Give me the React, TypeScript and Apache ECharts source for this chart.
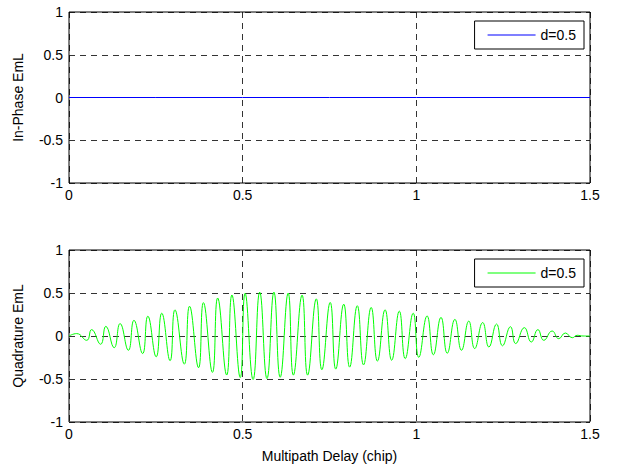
import React, { useEffect, useRef } from 'react';
import * as echarts from 'echarts';

const xTicks = [0, 0.5, 1, 1.5];
const yTicks = [-1, -0.5, 0, 0.5, 1];
const legendLabel = 'd=0.5';
const xTitle = 'Multipath Delay (chip)';
const topTitle = 'In-Phase EmL';
const bottomTitle = 'Quadrature EmL';

const inPhaseDelay = [0, 0.25, 0.5, 0.75, 1, 1.25, 1.5];
const inPhaseValue = [0, 0, 0, 0, 0, 0, 0];

const quadDelay = [
  0, 0.022, 0.051, 0.065, 0.091, 0.106, 0.13, 0.147, 0.171, 0.187, 0.212, 0.227, 0.251, 0.267, 0.291,
  0.305, 0.332, 0.347, 0.373, 0.387, 0.413, 0.428, 0.454, 0.469, 0.493, 0.507, 0.53, 0.549, 0.57,
  0.59, 0.608, 0.631, 0.646, 0.671, 0.687, 0.712, 0.728, 0.752, 0.768, 0.791, 0.808, 0.83, 0.848,
  0.87, 0.888, 0.91, 0.929, 0.951, 0.968, 0.991, 1.007, 1.031, 1.049, 1.071, 1.089, 1.111, 1.13,
  1.151, 1.168, 1.191, 1.209, 1.231, 1.248, 1.271, 1.286, 1.311, 1.331, 1.35, 1.367, 1.391, 1.41,
  1.429, 1.449, 1.463, 1.48, 1.5,
];
const quadValue = [
  0, 0.028, -0.05, 0.074, -0.096, 0.112, -0.136, 0.144, -0.166, 0.182, -0.204, 0.23, -0.242, 0.265, -0.288,
  0.304, -0.327, 0.346, -0.369, 0.388, -0.423, 0.442, -0.454, 0.477, -0.483, 0.496, -0.506, 0.51, -0.495,
  0.51, -0.48, 0.498, -0.455, 0.475, -0.455, 0.432, -0.392, 0.39, -0.385, 0.37, -0.362, 0.352, -0.336,
  0.332, -0.292, 0.305, -0.282, 0.289, -0.263, 0.265, -0.248, 0.233, -0.218, 0.216, -0.2, 0.193, -0.166,
  0.173, -0.146, 0.156, -0.128, 0.139, -0.114, 0.108, -0.088, 0.097, -0.07, 0.074, -0.05, 0.058, -0.031,
  0.035, -0.02, 0.008, 0, 0,
];

const FONT = 'Liberation Sans, Arial, sans-serif';
const FS = 14;

function zip(xs: number[], ys: number[]) {
  return xs.map((x, i) => [x, ys[i]]);
}

export default function App() {
  const ref = useRef<HTMLDivElement>(null);
  useEffect(() => {
    if (!ref.current) return;
    const chart = echarts.init(ref.current, undefined, { renderer: 'svg' });
    const dash = { color: '#000', width: 1, type: [6, 5] as any, opacity: 0.8 };
    const xAxisBase = (gridIndex: number, withName: boolean) => ({
      type: 'value',
      gridIndex,
      min: xTicks[0],
      max: xTicks[xTicks.length - 1],
      interval: 0.5,
      axisLine: { show: false, onZero: false },
      axisTick: { show: false },
      axisLabel: { color: '#000', fontSize: FS, fontFamily: FONT, margin: 5 },
      splitLine: { show: true, lineStyle: dash },
      name: withName ? xTitle : '',
      nameLocation: 'middle',
      nameGap: 27,
      nameTextStyle: { color: '#000', fontSize: FS, fontFamily: FONT },
    });
    const yAxisBase = (gridIndex: number, title: string) => ({
      type: 'value',
      gridIndex,
      min: yTicks[0],
      max: yTicks[yTicks.length - 1],
      interval: 0.5,
      axisLine: { show: false, onZero: false },
      axisTick: { show: false },
      axisLabel: { color: '#000', fontSize: FS, fontFamily: FONT, margin: 6 },
      splitLine: { show: true, lineStyle: dash },
      name: title,
      nameLocation: 'middle',
      nameGap: 44,
      nameTextStyle: { color: '#000', fontSize: FS, fontFamily: FONT },
    });
    const legendBase = (name: string, top: number) => ({
      data: [name],
      right: 34,
      top,
      orient: 'horizontal',
      selectedMode: false,
      backgroundColor: '#fff',
      borderColor: '#000',
      borderWidth: 1,
      borderRadius: 0,
      padding: [7, 8, 7, 13],
      icon: 'rect',
      itemWidth: 48,
      itemHeight: 1,
      zlevel: 2,
      formatter: () => legendLabel,
      textStyle: { color: '#000', fontSize: FS, fontFamily: FONT },
    });
    chart.setOption({
      animation: false,
      backgroundColor: '#fff',
      textStyle: { fontFamily: FONT },
      grid: [
        { left: 69, top: 12, width: 521, height: 171, show: true, borderColor: '#000', borderWidth: 1, backgroundColor: '#fff' },
        { left: 69, top: 250, width: 521, height: 172, show: true, borderColor: '#000', borderWidth: 1, backgroundColor: '#fff' },
      ],
      xAxis: [xAxisBase(0, false), xAxisBase(1, true)],
      yAxis: [yAxisBase(0, topTitle), yAxisBase(1, bottomTitle)],
      legend: [legendBase('I', 21), legendBase('Q', 259)],
      series: [
        {
          name: 'I',
          type: 'line',
          xAxisIndex: 0,
          yAxisIndex: 0,
          data: zip(inPhaseDelay, inPhaseValue),
          symbol: 'none',
          zlevel: 1,
          z: 10,
          lineStyle: { color: '#0000ff', width: 1 },
          itemStyle: { color: '#0000ff' },
        },
        {
          name: 'Q',
          type: 'line',
          xAxisIndex: 1,
          yAxisIndex: 1,
          data: zip(quadDelay, quadValue),
          symbol: 'none',
          smooth: 0.5,
          zlevel: 1,
          z: 10,
          lineStyle: { color: '#00ff00', width: 1 },
          itemStyle: { color: '#00ff00' },
        },
      ],
    });
    return () => chart.dispose();
  }, []);
  return (
    <div style={{ position: 'fixed', left: 0, top: 0, width: 618, height: 469, background: '#fff' }}>
      <div ref={ref} style={{ width: 618, height: 469 }} />
    </div>
  );
}
